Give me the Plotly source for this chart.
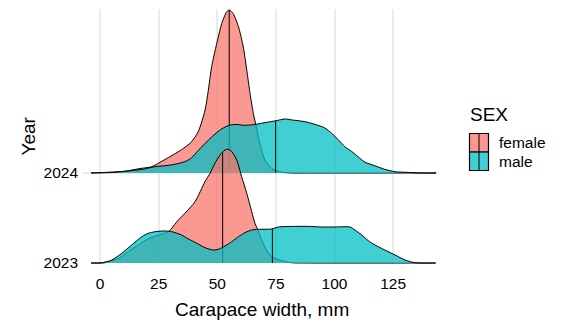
import numpy as np
import plotly.graph_objects as go

# ---------------------------------------------------------------- data
years = ["2023", "2024"]
sexes = ["female", "male"]
x_ticks = [0, 25, 50, 75, 100, 125]

# Ridge outlines: carapace width (mm) and density height in year-row units
female_2024_x = [-3.8, 10.7, 17.1, 22.0, 27.7, 34.8, 38.8, 41.9, 44.8, 46.2, 47.6, 49.8,
                 51.9, 54.0, 55.1, 56.8, 59.0, 61.1, 62.6, 64.0, 65.4, 66.4, 68.2, 70.4,
                 73.2, 77.5, 81.7, 90.0, 143.3]
female_2024_h = [0.0, 0.02, 0.05, 0.07, 0.15, 0.26, 0.34, 0.46, 0.70, 0.92, 1.18, 1.44,
                 1.66, 1.79, 1.81, 1.77, 1.63, 1.40, 1.14, 0.88, 0.66, 0.54, 0.33, 0.14,
                 0.05, 0.01, 0.0, 0.0, 0.0]

male_2024_x = [-3.8, 5.0, 11.4, 17.8, 23.5, 30.6, 36.2, 39.1, 41.9, 47.6, 51.9, 55.1,
               57.6, 61.8, 66.4, 70.4, 74.9, 78.9, 81.7, 87.4, 91.7, 95.9, 98.8, 101.6,
               104.5, 107.3, 110.1, 113.0, 117.3, 121.5, 125.8, 130.1, 136.5, 143.3]
male_2024_h = [0.0, 0.005, 0.02, 0.04, 0.07, 0.09, 0.126, 0.17, 0.25, 0.40, 0.49, 0.53,
               0.54, 0.53, 0.54, 0.56, 0.58, 0.60, 0.59, 0.57, 0.54, 0.50, 0.44, 0.37,
               0.29, 0.24, 0.18, 0.12, 0.08, 0.04, 0.014, 0.008, 0.0, 0.0]

female_2023_x = [-3.8, 2.1, 7.8, 12.1, 16.3, 20.6, 24.9, 29.1, 33.4, 36.2, 40.5, 44.8,
                 46.9, 49.0, 51.2, 53.3, 54.7, 56.2, 58.3, 60.4, 62.6, 64.7, 66.1, 67.3,
                 68.9, 71.0, 73.2, 77.5, 81.7, 88.0, 143.3]
female_2023_h = [0.0, 0.003, 0.05, 0.126, 0.20, 0.27, 0.31, 0.348, 0.478, 0.552, 0.68, 0.906,
                 0.996, 1.107, 1.20, 1.256, 1.263, 1.237, 1.144, 0.959, 0.774, 0.57, 0.44, 0.37,
                 0.26, 0.144, 0.07, 0.026, 0.003, 0.0, 0.0]

male_2023_x = [-3.8, 0.7, 5.0, 9.3, 13.5, 17.8, 20.6, 23.5, 27.7, 30.6, 34.8, 37.5,
               40.5, 44.8, 48.3, 50.4, 53.3, 56.2, 59.0, 61.8, 64.7, 67.5, 73.2, 76.0,
               83.2, 88.8, 94.5, 100.2, 106.6, 108.7, 111.6, 114.4, 117.3, 121.5, 125.8,
               130.1, 134.3, 142.9]
male_2023_h = [0.0, 0.003, 0.033, 0.108, 0.20, 0.292, 0.33, 0.348, 0.356, 0.348, 0.311, 0.27,
               0.23, 0.17, 0.144, 0.152, 0.189, 0.237, 0.292, 0.337, 0.367, 0.374, 0.378, 0.40,
               0.407, 0.407, 0.40, 0.40, 0.40, 0.367, 0.311, 0.248, 0.20, 0.144, 0.089,
               0.033, 0.003, 0.0]

# Median carapace width per year and sex
median_female = {"2023": 52.3, "2024": 55.1}
median_male = {"2023": 73.5, "2024": 74.9}

# ---------------------------------------------------------------- styling
FONT = "Liberation Sans, Arial, sans-serif"
FILL = {"female": "rgba(248,118,109,0.75)", "male": "rgba(0,191,196,0.75)"}
GRID = "#EBEBEB"

curves = {
    ("2024", "female"): (female_2024_x, female_2024_h),
    ("2024", "male"): (male_2024_x, male_2024_h),
    ("2023", "female"): (female_2023_x, female_2023_h),
    ("2023", "male"): (male_2023_x, male_2023_h),
}
medians = {"female": median_female, "male": median_male}

fig = go.Figure()

# upper ridge first so the lower one overlaps it
for year in ["2024", "2023"]:
    base = years.index(year) + 1
    for sex in sexes:
        xs, hs = curves[(year, sex)]
        ys = [base + h for h in hs]
        fig.add_trace(go.Scatter(
            x=xs, y=ys, mode="lines", fill="toself",
            fillcolor=FILL[sex],
            line=dict(color="black", width=1, shape="spline", smoothing=0.7),
            showlegend=False, hoverinfo="skip"))
        m = medians[sex][year]
        top = base + float(np.interp(m, xs, hs))
        fig.add_trace(go.Scatter(
            x=[m, m], y=[base, top], mode="lines",
            line=dict(color="black", width=1),
            showlegend=False, hoverinfo="skip"))

# ---------------------------------------------------------------- layout
W, H = 576, 332
L, R, T, B = 83, 137, 9, 68
PW, PH = W - L - R, H - T - B


def px_to_paper(px, py):
    return (px - L) / PW, (H - B - py) / PH


shapes = []
annotations = []

# legend drawn as keys with a median tick, like the ridges
key_x0, key_x1 = 469.5, 488.5
key_rows = [("female", 133.5, 152), ("male", 152, 170.5)]
for sex, y_top, y_bot in key_rows:
    x0, y0 = px_to_paper(key_x0, y_bot)
    x1, y1 = px_to_paper(key_x1, y_top)
    shapes.append(dict(type="rect", xref="paper", yref="paper", x0=x0, x1=x1, y0=y0, y1=y1,
                       fillcolor=FILL[sex], line=dict(color="black", width=1.2)))
    xm, _ = px_to_paper((key_x0 + key_x1) / 2, 0)
    shapes.append(dict(type="line", xref="paper", yref="paper", x0=xm, x1=xm, y0=y0, y1=y1,
                       line=dict(color="black", width=1)))
    lx, ly = px_to_paper(497, (y_top + y_bot) / 2)
    annotations.append(dict(text=sex, xref="paper", yref="paper", x=lx, y=ly,
                            xanchor="left", yanchor="middle", showarrow=False,
                            font=dict(family=FONT, size=15.5, color="black")))

tx, ty = px_to_paper(468, 114)
annotations.append(dict(text="SEX", xref="paper", yref="paper", x=tx, y=ty,
                        xanchor="left", yanchor="middle", showarrow=False,
                        font=dict(family=FONT, size=19, color="black")))

# axis titles
ax, ay = px_to_paper(262, 309)
annotations.append(dict(text="Carapace width, mm", xref="paper", yref="paper", x=ax, y=ay,
                        xanchor="center", yanchor="middle", showarrow=False,
                        font=dict(family=FONT, size=19, color="black")))
yx, yy = px_to_paper(28, 136.5)
annotations.append(dict(text="Year", xref="paper", yref="paper", x=yx, y=yy, textangle=-90,
                        xanchor="center", yanchor="middle", showarrow=False,
                        font=dict(family=FONT, size=19, color="black")))

fig.update_layout(
    width=W, height=H,
    margin=dict(l=L, r=R, t=T, b=B, pad=0),
    paper_bgcolor="white", plot_bgcolor="white",
    font=dict(family=FONT, color="black"),
    shapes=shapes, annotations=annotations,
    xaxis=dict(range=[-7.25, 144.56], tickvals=x_ticks, ticks="", showline=False,
               zeroline=False, showgrid=True, gridcolor=GRID, gridwidth=1.6,
               tickfont=dict(family=FONT, size=15.5, color="black"),
               ticklabelstandoff=8, automargin=False),
    yaxis=dict(range=[0.989, 3.822], tickvals=[1, 2], ticktext=years, ticks="",
               showline=False, zeroline=False, showgrid=True, gridcolor=GRID, gridwidth=1.6,
               tickfont=dict(family=FONT, size=15.5, color="black"),
               ticklabelstandoff=4, automargin=False),
    showlegend=False,
)

fig.write_html("out.html")
